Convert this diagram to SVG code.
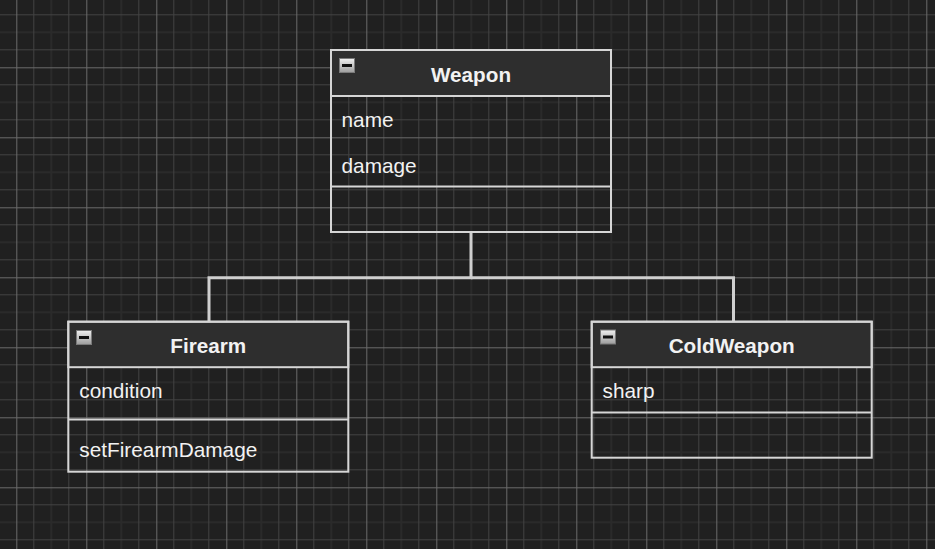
<svg xmlns="http://www.w3.org/2000/svg" width="935" height="549" viewBox="0 0 935 549">
<defs>
<pattern id="grid" patternUnits="userSpaceOnUse" x="16.3" y="-2.7" width="70" height="70">
<rect width="70" height="70" fill="#202020"/>
<path d="M35 0V70M0 35H70" stroke="#2a2a2a" stroke-width="2"/>
<path d="M17.5 0V70M52.5 0V70M0 17.5H70M0 52.5H70" stroke="#424242" stroke-width="1"/>
<path d="M0.5 0V70M0 0.5H70" stroke="#6a6a6a" stroke-width="1"/>
</pattern>
<linearGradient id="ig" x1="0" y1="0" x2="0" y2="1">
<stop offset="0" stop-color="#f0f0f0"/>
<stop offset="1" stop-color="#9c9c9c"/>
</linearGradient>
<g id="icon">
<rect x="0.5" y="0.5" width="15" height="14" fill="url(#ig)" stroke="#7a7a7a" stroke-width="1"/>
<rect x="3" y="6" width="10" height="3" fill="#111"/>
</g>
</defs>
<style>
.frame{fill:none;stroke:#d6d6d6;stroke-width:2}
.head{fill:#2e2e2e;stroke:#d6d6d6;stroke-width:2}
.sep{stroke:#d6d6d6;stroke-width:2}
.title{font-family:"Liberation Sans",Arial,sans-serif;font-weight:bold;font-size:20.7px;fill:#f2f2f2;text-anchor:middle}
.item{font-family:"Liberation Sans",Arial,sans-serif;font-size:20.8px;fill:#f2f2f2}
.conn{fill:none;stroke:#cfcfcf;stroke-width:3}
</style>
<rect width="935" height="549" fill="url(#grid)"/>
<g id="connectors">
<path class="conn" d="M471 233V277.8H209V322"/>
<path class="conn" d="M471 277.8H733.5V322"/>
</g>
<g id="Weapon">
<rect class="head" x="331" y="50" width="280" height="46"/>
<rect class="frame" x="331" y="50" width="280" height="182"/>
<line class="sep" x1="331" y1="186.5" x2="611" y2="186.5"/>
<use href="#icon" x="339" y="58"/>
<text class="title" x="471" y="81.7">Weapon</text>
<text class="item" x="341.5" y="127.3">name</text>
<text class="item" x="341.5" y="172.7">damage</text>
</g>
<g id="Firearm">
<rect class="head" x="68.3" y="321.7" width="280" height="45.5"/>
<rect class="frame" x="68.3" y="321.7" width="280" height="150"/>
<line class="sep" x1="68.3" y1="419.5" x2="348.3" y2="419.5"/>
<use href="#icon" x="76" y="330"/>
<text class="title" x="208.3" y="352.7">Firearm</text>
<text class="item" x="79.3" y="398.3">condition</text>
<text class="item" x="79.3" y="457.3">setFirearmDamage</text>
</g>
<g id="ColdWeapon">
<rect class="head" x="591.7" y="321.7" width="280" height="45.5"/>
<rect class="frame" x="591.7" y="321.7" width="280" height="136"/>
<line class="sep" x1="591.7" y1="412.5" x2="871.7" y2="412.5"/>
<use href="#icon" x="600" y="329.5"/>
<text class="title" x="731.7" y="352.7">ColdWeapon</text>
<text class="item" x="602.5" y="398.3">sharp</text>
</g>
</svg>
